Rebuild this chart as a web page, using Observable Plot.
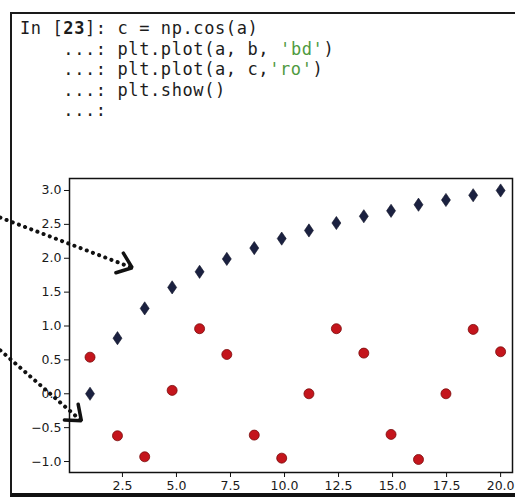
<!DOCTYPE html>
<html>
<head>
<meta charset="utf-8">
<script src="https://cdn.jsdelivr.net/npm/d3@7"></script>
<script src="https://cdn.jsdelivr.net/npm/@observablehq/plot@0.6"></script>
<style>
  html, body { margin: 0; padding: 0; background: #fff; width: 515px; height: 498px; overflow: hidden; }
  #box { position: absolute; left: 10px; top: 12px; width: 520px; height: 479px;
         border-left: 2px solid #1a1a1a; border-top: 2px solid #1a1a1a; border-bottom: 4px solid #111; }
  .ln { position: absolute; left: 20px; white-space: pre; margin: 0;
        font-family: "DejaVu Sans Mono", monospace; font-size: 17px; line-height: 20px; letter-spacing: 0.6px; color: #1c1c1c; }
  .ln b { font-weight: bold; }
  .ln .s { color: #4f9a3f; }
  #plot { position: absolute; left: 0; top: 150px; }
</style>
</head>
<body>
<div id="box"></div>
<div class="ln" style="top:18px">In [<b>23</b>]: c = np.cos(a)</div>
<div class="ln" style="top:38.6px">    ...: plt.plot(a, b, <span class="s">'bd'</span>)</div>
<div class="ln" style="top:59.2px">    ...: plt.plot(a, c,<span class="s">'ro'</span>)</div>
<div class="ln" style="top:79.8px">    ...: plt.show()</div>
<div class="ln" style="top:100.4px">    ...:</div>
<div id="plot"></div>
<script>
// a = values along x (16 evenly spaced points from 1 to 20)
const a = [1, 2.27, 3.53, 4.8, 6.07, 7.33, 8.6, 9.87, 11.13, 12.4, 13.67, 14.93, 16.2, 17.47, 18.73, 20];
// b: blue diamonds
const b = [0, 0.82, 1.26, 1.57, 1.80, 1.99, 2.15, 2.29, 2.41, 2.52, 2.62, 2.70, 2.79, 2.86, 2.93, 3.00];
// c: red circles
const c = [0.54, -0.62, -0.93, 0.05, 0.96, 0.58, -0.61, -0.95, 0.0, 0.96, 0.6, -0.6, -0.97, 0.0, 0.95, 0.62];
const xTicks = [2.5, 5.0, 7.5, 10.0, 12.5, 15.0, 17.5, 20.0];
const yTicks = [-1.0, -0.5, 0.0, 0.5, 1.0, 1.5, 2.0, 2.5, 3.0];
// hand-drawn annotation arrows (in data units)
const arrowFromX = [-3.15, -3.15];
const arrowFromY = [2.60, 0.64];
const arrowToX = [2.95, 0.6];
const arrowToY = [1.86, -0.40];

const blue = a.map((x, i) => ({x, y: b[i]}));
const red = a.map((x, i) => ({x, y: c[i]}));
const arrows = arrowFromX.map((x1, i) => ({x1, y1: arrowFromY[i], x2: arrowToX[i], y2: arrowToY[i]}));

const thinDiamond = {
  draw(context, size) {
    const h = Math.sqrt(size / Math.PI) * 1.1;
    const w = h * 0.68;
    context.moveTo(0, -h);
    context.lineTo(w, 0);
    context.lineTo(0, h);
    context.lineTo(-w, 0);
    context.closePath();
  }
};

const fmt = d => d.toFixed(1).replace("-", "\u2212");

// draws open ">" heads at the end of each link, using the scaled pixel positions
function withHeads(index, scales, values, dimensions, context, next) {
  const g = next(index, scales, values, dimensions, context);
  const len = 17, ang = 38 * Math.PI / 180;
  for (const i of index) {
    const x1 = values.x1[i], y1 = values.y1[i], x2 = values.x2[i], y2 = values.y2[i];
    const t = Math.atan2(y2 - y1, x2 - x1);
    const ax = x2 - len * Math.cos(t - ang), ay = y2 - len * Math.sin(t - ang);
    const bx = x2 - len * Math.cos(t + ang), by = y2 - len * Math.sin(t + ang);
    const p = document.createElementNS("http://www.w3.org/2000/svg", "path");
    p.setAttribute("d", `M${ax},${ay}L${x2},${y2}L${bx},${by}`);
    p.setAttribute("fill", "none");
    p.setAttribute("stroke", "#111");
    p.setAttribute("stroke-width", "3.5");
    p.setAttribute("stroke-dasharray", "none");
    p.setAttribute("stroke-linecap", "round");
    p.setAttribute("stroke-linejoin", "miter");
    g.appendChild(p);
  }
  return g;
}

const chart = Plot.plot({
  width: 515,
  height: 348,
  marginLeft: 69,
  marginRight: 3,
  marginTop: 28,
  marginBottom: 26,
  style: { fontFamily: "DejaVu Sans, sans-serif", fontSize: "12.5px", color: "#1e1e1e", background: "transparent", overflow: "visible" },
  x: { domain: [0.05, 20.55], label: null },
  y: { domain: [-1.162, 3.177], label: null },
  marks: [
    Plot.frame({ stroke: "#111", strokeWidth: 1.5 }),
    Plot.axisX({ ticks: xTicks, tickFormat: fmt, tickSize: 5, tickPadding: 4, stroke: "#111", fill: "#1a1a1a", label: null, fontSize: 12.5 }),
    Plot.axisY({ ticks: yTicks, tickFormat: fmt, tickSize: 5, tickPadding: 3, stroke: "#111", fill: "#1a1a1a", label: null, fontSize: 12.5 }),
    Plot.dot(red, { x: "x", y: "y", r: 5, fill: "#c4151c", stroke: "#7a0b0b", strokeWidth: 0.8 }),
    Plot.dot(blue, { x: "x", y: "y", r: 6, symbol: thinDiamond, fill: "#1b2140", stroke: "#101428", strokeWidth: 0.6 }),
    Plot.link(arrows, { x1: "x1", y1: "y1", x2: "x2", y2: "y2", stroke: "#111", strokeWidth: 4,
      strokeDasharray: "0.1,6.5", strokeLinecap: "round", render: withHeads })
  ]
});
document.getElementById("plot").appendChild(chart);
</script>
</body>
</html>
